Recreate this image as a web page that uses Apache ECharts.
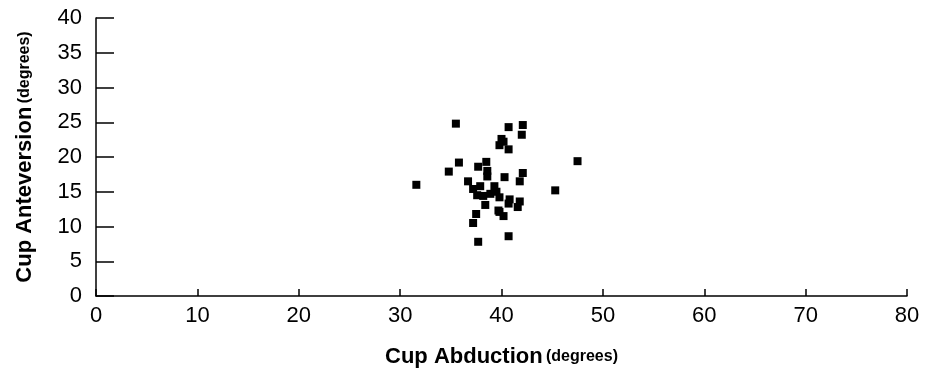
<!DOCTYPE html>
<html>
<head>
<meta charset="utf-8">
<script src="https://cdn.jsdelivr.net/npm/echarts@6/dist/echarts.min.js"></script>
<style>
  html, body { margin: 0; padding: 0; background: #fff; }
  #chart { width: 933px; height: 373px; }
</style>
</head>
<body>
<div id="chart"></div>
<script>
// cup abduction (x) vs cup anteversion (y), degrees
const abduction = [
  35.5, 40.7, 42.1, 42.0, 40.0, 39.8, 40.7, 40.2, 47.5, 35.8,
  34.8, 38.5, 37.7, 38.6, 38.6, 40.3, 42.1, 41.8, 31.6, 36.7,
  37.2, 37.9, 39.3, 39.5, 37.6, 38.2, 38.9, 39.8, 40.8, 40.7,
  41.8, 41.6, 45.3, 38.4, 39.7, 39.8, 40.2, 37.5, 37.2, 40.7,
  37.7
];
const anteversion = [
  24.8, 24.3, 24.6, 23.2, 22.6, 21.7, 21.1, 22.2, 19.4, 19.2,
  17.9, 19.3, 18.6, 18.0, 17.2, 17.1, 17.7, 16.5, 16.0, 16.5,
  15.4, 15.8, 15.8, 15.0, 14.5, 14.4, 14.7, 14.2, 13.9, 13.3,
  13.6, 12.8, 15.2, 13.1, 12.3, 12.1, 11.5, 11.8, 10.5, 8.6,
  7.8
];

const font = "'Liberation Sans', Arial, sans-serif";

const chart = echarts.init(document.getElementById('chart'));

const axisName = {
  rich: {
    b: { fontFamily: font, fontWeight: 'bold', fontSize: 22, color: '#000' },
    s: { fontFamily: font, fontWeight: 'bold', fontSize: 16, color: '#000' }
  }
};

chart.setOption({
  animation: false,
  grid: { left: 96, right: 26, top: 18, bottom: 75 },
  xAxis: {
    type: 'value',
    min: 0, max: 80, interval: 10,
    name: '{b|Cup Abduction} {s|(degrees)}',
    nameLocation: 'middle',
    nameGap: 50,
    nameTextStyle: axisName,
    axisLine: { show: true, lineStyle: { color: '#000', width: 1.5 } },
    axisTick: { show: true, inside: true, length: 7, lineStyle: { color: '#000', width: 1.5 } },
    axisLabel: { color: '#000', fontFamily: font, fontSize: 22, margin: 9 },
    splitLine: { show: false }
  },
  yAxis: {
    type: 'value',
    min: 0, max: 40, interval: 5,
    name: '{b|Cup Anteversion} {s|(degrees)}',
    nameLocation: 'middle',
    nameGap: 60,
    nameRotate: 90,
    nameTextStyle: axisName,
    axisLine: { show: true, lineStyle: { color: '#000', width: 1.5 } },
    axisTick: { show: true, inside: true, length: 18, lineStyle: { color: '#000', width: 1.5 } },
    axisLabel: { color: '#000', fontFamily: font, fontSize: 22, margin: 14 },
    splitLine: { show: false }
  },
  series: [{
    type: 'scatter',
    symbol: 'rect',
    symbolSize: 8,
    itemStyle: { color: '#000', opacity: 1 },
    data: abduction.map((x, i) => [x, anteversion[i]])
  }]
});
</script>
</body>
</html>
